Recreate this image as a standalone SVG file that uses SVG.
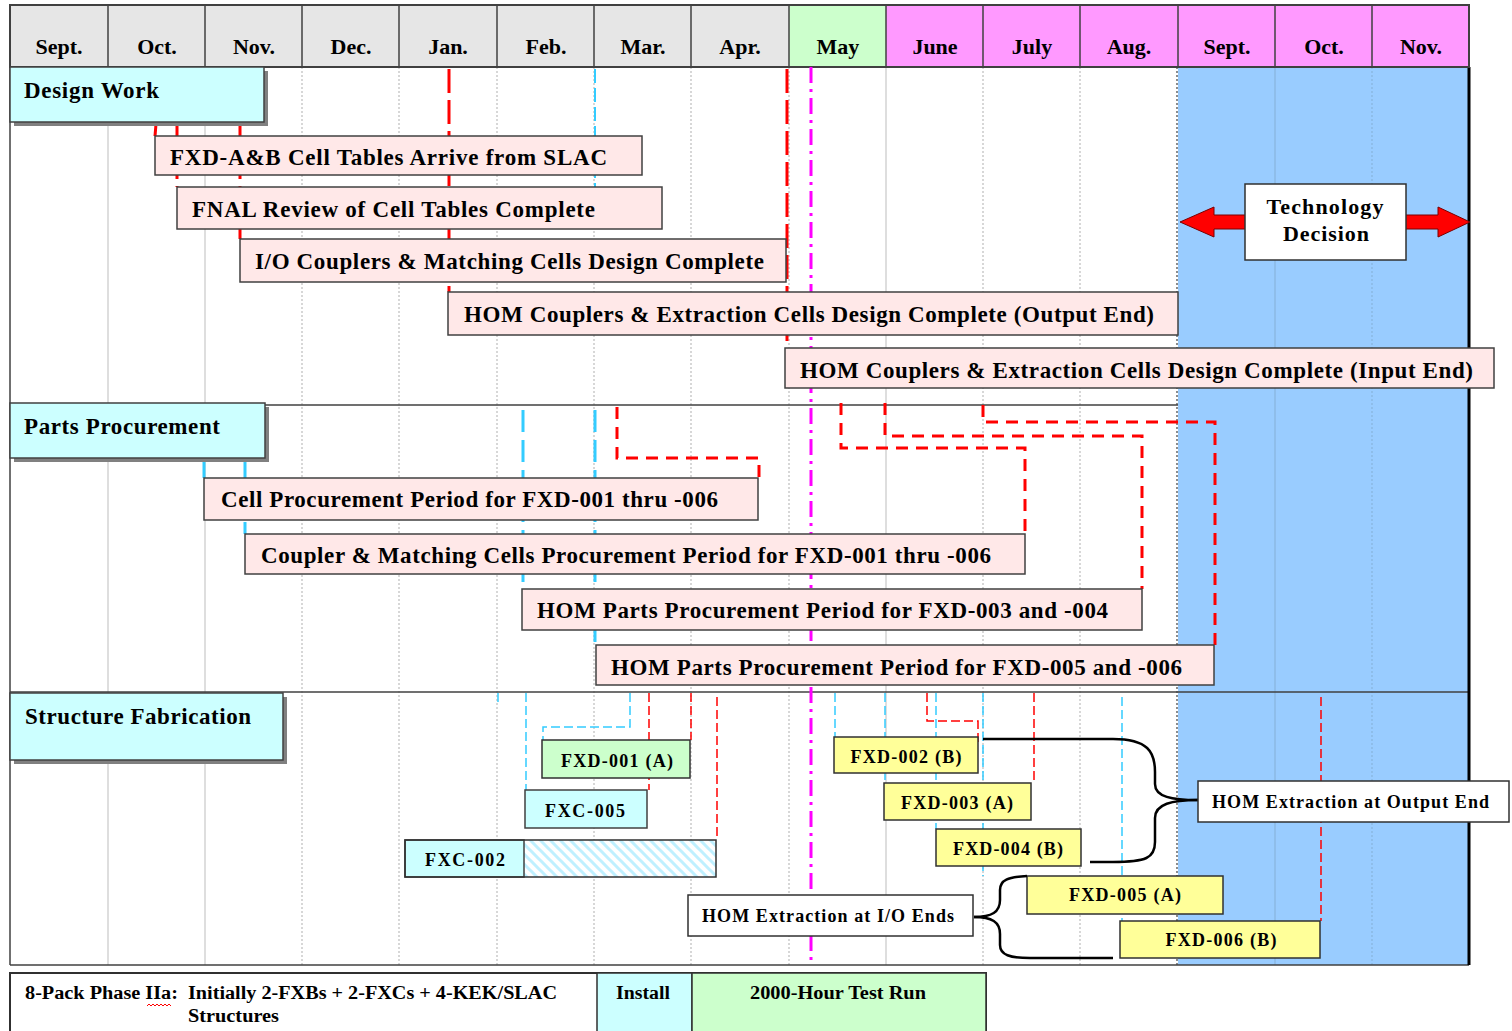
<svg xmlns="http://www.w3.org/2000/svg" width="1512" height="1031" viewBox="0 0 1512 1031">
<style>
text{font-family:"Liberation Serif","Times New Roman",serif;font-weight:bold;fill:#000}
.mon{font-size:22px;text-anchor:middle}
.sec{font-size:23px}
.bar{font-size:23px}
.box{font-size:18px;text-anchor:middle}
.lbl{font-size:18px}
.leg{font-size:18px}
.hdr{stroke:#404040;stroke-width:1.5}
.grid{stroke:#c8c8c8;stroke-width:1.2}
.dot{stroke:#bdbdbd;stroke-width:1.2;stroke-dasharray:2 2}
.bgrid{stroke:#88b4dd;stroke-width:1.2}
.pink{fill:#ffe8e8;stroke:#404040;stroke-width:1.5}
.cyanb{fill:#ccffff;stroke:#404040;stroke-width:1.5}
.shadow{fill:#808080}
.yel{fill:#ffff99;stroke:#303030;stroke-width:1.5}
.grn{fill:#ccffcc;stroke:#303030;stroke-width:1.5}
.wht{fill:#ffffff;stroke:#303030;stroke-width:1.5}
.rd1{stroke:#ff0000;stroke-width:3;stroke-dasharray:24 7;fill:none}
.rd2{stroke:#ff0000;stroke-width:3;stroke-dasharray:12 8;fill:none}
.rd3{stroke:#ff0000;stroke-width:1.5;stroke-dasharray:9 4;fill:none}
.cy1{stroke:#33ccff;stroke-width:2;stroke-dasharray:14 5;fill:none}
.cy2{stroke:#33ccff;stroke-width:3;stroke-dasharray:22 8;fill:none}
.cy3{stroke:#33ccff;stroke-width:1.5;stroke-dasharray:9 4;fill:none}
.mg{stroke:#ff00ff;stroke-width:3;stroke-dasharray:16 6 3 6;fill:none}
.brace{stroke:#000;stroke-width:2.5;fill:none}
</style>
<defs>
<pattern id="hatch" width="10" height="10" patternUnits="userSpaceOnUse">
<rect width="10" height="10" fill="#ffffff"/>
<path d="M-5,5 L5,15 M0,0 L10,10 M5,-5 L15,5" stroke="#bff0ff" stroke-width="3"/>
</pattern>
</defs>

<!-- background -->
<rect x="0" y="0" width="1512" height="1031" fill="#ffffff"/>
<rect x="1178" y="67" width="291" height="898" fill="#99ccff"/>

<!-- grid -->
<g id="grid">
<line class="grid" x1="108" y1="67" x2="108" y2="965"/>
<line class="grid" x1="205" y1="67" x2="205" y2="965"/>
<line class="dot" x1="302" y1="67" x2="302" y2="965"/>
<line class="dot" x1="399" y1="67" x2="399" y2="965"/>
<line class="dot" x1="497" y1="67" x2="497" y2="965"/>
<line class="dot" x1="594" y1="67" x2="594" y2="965"/>
<line class="dot" x1="691" y1="67" x2="691" y2="965"/>
<line class="dot" x1="789" y1="67" x2="789" y2="965"/>
<line class="grid" x1="886" y1="67" x2="886" y2="965"/>
<line class="dot" x1="983" y1="67" x2="983" y2="965"/>
<line class="dot" x1="1080" y1="67" x2="1080" y2="965"/>
<line x1="1177" y1="67" x2="1177" y2="965" stroke="#404040" stroke-width="1.2" stroke-dasharray="2 2"/>
<line class="bgrid" x1="1275" y1="67" x2="1275" y2="965"/>
<line class="bgrid" x1="1372" y1="67" x2="1372" y2="965" stroke-dasharray="2 2"/>
<line class="hdr" x1="10" y1="405" x2="1178" y2="405"/>
<line class="hdr" x1="10" y1="692" x2="1469" y2="692"/>
<line class="hdr" x1="10" y1="965" x2="1469" y2="965"/>
<line class="hdr" x1="10" y1="5" x2="10" y2="965"/>
<line x1="1469" y1="67" x2="1469" y2="965" stroke="#000" stroke-width="3"/>
</g>

<!-- header -->
<g id="header">
<rect x="10" y="5" width="779" height="62" fill="#e6e6e6"/>
<rect x="789" y="5" width="97" height="62" fill="#ccffcc"/>
<rect x="886" y="5" width="583" height="62" fill="#ff99ff"/>
<rect x="10" y="5" width="1459" height="62" fill="none" stroke="#404040" stroke-width="2"/>
<line class="hdr" x1="108" y1="5" x2="108" y2="67"/>
<line class="hdr" x1="205" y1="5" x2="205" y2="67"/>
<line class="hdr" x1="302" y1="5" x2="302" y2="67"/>
<line class="hdr" x1="399" y1="5" x2="399" y2="67"/>
<line class="hdr" x1="497" y1="5" x2="497" y2="67"/>
<line class="hdr" x1="594" y1="5" x2="594" y2="67"/>
<line class="hdr" x1="691" y1="5" x2="691" y2="67"/>
<line class="hdr" x1="789" y1="5" x2="789" y2="67"/>
<line class="hdr" x1="886" y1="5" x2="886" y2="67"/>
<line class="hdr" x1="983" y1="5" x2="983" y2="67"/>
<line class="hdr" x1="1080" y1="5" x2="1080" y2="67"/>
<line class="hdr" x1="1178" y1="5" x2="1178" y2="67"/>
<line class="hdr" x1="1275" y1="5" x2="1275" y2="67"/>
<line class="hdr" x1="1372" y1="5" x2="1372" y2="67"/>
<text class="mon" x="59" y="54">Sept.</text>
<text class="mon" x="157" y="54">Oct.</text>
<text class="mon" x="254" y="54">Nov.</text>
<text class="mon" x="351" y="54">Dec.</text>
<text class="mon" x="448" y="54">Jan.</text>
<text class="mon" x="546" y="54">Feb.</text>
<text class="mon" x="643" y="54">Mar.</text>
<text class="mon" x="740" y="54">Apr.</text>
<text class="mon" x="838" y="54">May</text>
<text class="mon" x="935" y="54">June</text>
<text class="mon" x="1032" y="54">July</text>
<text class="mon" x="1129" y="54">Aug.</text>
<text class="mon" x="1227" y="54">Sept.</text>
<text class="mon" x="1324" y="54">Oct.</text>
<text class="mon" x="1421" y="54">Nov.</text>
</g>

<!-- connectors -->
<g id="connectors">
<line class="mg" x1="811" y1="67" x2="811" y2="962"/>
<!-- design work -->
<line class="rd1" x1="156" y1="124" x2="155" y2="136"/>
<line class="rd1" x1="177" y1="124" x2="177" y2="187"/>
<line class="rd1" x1="240" y1="124" x2="240" y2="239"/>
<line class="rd1" x1="449" y1="69" x2="449" y2="292"/>
<line class="cy1" x1="595" y1="69" x2="595" y2="187"/>
<line class="rd1" x1="787" y1="69" x2="787" y2="348"/>
<!-- parts procurement -->
<line class="cy2" x1="204" y1="460" x2="204" y2="478"/>
<line class="cy2" x1="245" y1="462" x2="245" y2="534"/>
<line class="cy2" x1="523" y1="410" x2="523" y2="589"/>
<line class="cy2" x1="595" y1="410" x2="595" y2="645"/>
<path class="rd2" d="M617,407 L617,458 L759,458 L759,478"/>
<path class="rd2" d="M841,403 L841,448 L1025,448 L1025,534"/>
<path class="rd2" d="M885,403 L885,436 L1142,436 L1142,589"/>
<path class="rd2" d="M983,405 L983,422 L1215,422 L1215,645"/>
<!-- structure fabrication -->
<line class="cy3" x1="498" y1="693" x2="498" y2="703"/>
<line class="cy3" x1="526" y1="693" x2="526" y2="790"/>
<path class="cy3" d="M630,693 L630,727 L543,727 L543,740"/>
<line class="rd3" x1="649" y1="693" x2="649" y2="790"/>
<line class="rd3" x1="691" y1="693" x2="691" y2="740"/>
<line class="rd3" x1="717" y1="697" x2="717" y2="840"/>
<line class="cy3" x1="835" y1="693" x2="835" y2="737"/>
<line class="cy3" x1="885" y1="693" x2="885" y2="783"/>
<path class="rd3" d="M927,693 L927,721 L978,721 L978,742"/>
<line class="cy3" x1="936" y1="693" x2="936" y2="829"/>
<line class="cy3" x1="983" y1="693" x2="983" y2="876"/>
<line class="rd3" x1="1034" y1="693" x2="1034" y2="783"/>
<line class="cy3" x1="1122" y1="697" x2="1122" y2="921"/>
<line class="rd3" x1="1321" y1="697" x2="1321" y2="921"/>
</g>

<!-- section headers -->
<g id="sec-design">
<rect class="shadow" x="14" y="71" width="254" height="55"/>
<rect class="cyanb" x="10" y="67" width="254" height="55"/>
<text class="sec" x="24" y="98" textLength="135" lengthAdjust="spacing">Design Work</text>
</g>
<g id="sec-parts">
<rect class="shadow" x="14" y="407" width="255" height="55"/>
<rect class="cyanb" x="10" y="403" width="255" height="55"/>
<text class="sec" x="24" y="434" textLength="196" lengthAdjust="spacing">Parts Procurement</text>
</g>
<g id="sec-fab">
<rect class="shadow" x="14" y="697" width="273" height="67"/>
<rect class="cyanb" x="10" y="693" width="273" height="67"/>
<text class="sec" x="25" y="724" textLength="226" lengthAdjust="spacing">Structure Fabrication</text>
</g>

<!-- design bars -->
<g id="bar1"><rect class="pink" x="155" y="136" width="487" height="39"/>
<text class="bar" x="170" y="165" textLength="437" lengthAdjust="spacing">FXD-A&amp;B Cell Tables Arrive from SLAC</text></g>
<g id="bar2"><rect class="pink" x="177" y="187" width="485" height="42"/>
<text class="bar" x="192" y="217" textLength="403" lengthAdjust="spacing">FNAL Review of Cell Tables Complete</text></g>
<g id="bar3"><rect class="pink" x="240" y="239" width="546" height="43"/>
<text class="bar" x="255" y="269" textLength="509" lengthAdjust="spacing">I/O Couplers &amp; Matching Cells Design Complete</text></g>
<g id="bar4"><rect class="pink" x="448" y="292" width="730" height="43"/>
<text class="bar" x="464" y="322" textLength="690" lengthAdjust="spacing">HOM Couplers &amp; Extraction Cells Design Complete (Output End)</text></g>
<g id="bar5"><rect class="pink" x="785" y="348" width="709" height="40"/>
<text class="bar" x="800" y="378" textLength="673" lengthAdjust="spacing">HOM Couplers &amp; Extraction Cells Design Complete (Input End)</text></g>

<!-- parts bars -->
<g id="bar6"><rect class="pink" x="204" y="478" width="554" height="42"/>
<text class="bar" x="221" y="507" textLength="497" lengthAdjust="spacing">Cell Procurement Period for FXD-001 thru -006</text></g>
<g id="bar7"><rect class="pink" x="245" y="534" width="780" height="40"/>
<text class="bar" x="261" y="563" textLength="730" lengthAdjust="spacing">Coupler &amp; Matching Cells Procurement Period for FXD-001 thru -006</text></g>
<g id="bar8"><rect class="pink" x="522" y="589" width="620" height="41"/>
<text class="bar" x="537" y="618" textLength="571" lengthAdjust="spacing">HOM Parts Procurement Period for FXD-003 and -004</text></g>
<g id="bar9"><rect class="pink" x="596" y="645" width="618" height="40"/>
<text class="bar" x="611" y="675" textLength="571" lengthAdjust="spacing">HOM Parts Procurement Period for FXD-005 and -006</text></g>

<!-- technology decision -->
<g id="tech-arrows">
<polygon points="1180,222 1214,207 1214,215 1246,215 1246,229 1214,229 1214,237" fill="#ff0000" stroke="#7a0000" stroke-width="1"/>
<polygon points="1470,222 1438,207 1438,215 1405,215 1405,229 1438,229 1438,237" fill="#ff0000" stroke="#7a0000" stroke-width="1"/>
</g>
<g id="tech-decision">
<rect class="wht" x="1245" y="184" width="161" height="76"/>
<text class="box" x="1325" y="214" font-size="22" style="font-size:22px" textLength="117" lengthAdjust="spacing">Technology</text>
<text class="box" x="1326" y="241" style="font-size:22px" textLength="86" lengthAdjust="spacing">Decision</text>
</g>

<!-- fabrication boxes -->
<g id="fxd001"><rect class="grn" x="542" y="740" width="148" height="38"/>
<text class="box" x="617" y="767" textLength="112" lengthAdjust="spacing">FXD-001 (A)</text></g>
<g id="fxc005"><rect class="cyanb" x="525" y="790" width="122" height="38"/>
<text class="box" x="585" y="817" textLength="80" lengthAdjust="spacing">FXC-005</text></g>
<g id="fxc002"><rect x="524" y="840" width="192" height="37" fill="url(#hatch)"/>
<rect class="cyanb" x="405" y="840" width="119" height="37"/>
<rect x="405" y="840" width="311" height="37" fill="none" stroke="#303030" stroke-width="1.5"/>
<text class="box" x="465" y="866" textLength="80" lengthAdjust="spacing">FXC-002</text></g>
<g id="fxd002"><rect class="yel" x="834" y="737" width="144" height="36"/>
<text class="box" x="906" y="763" textLength="111" lengthAdjust="spacing">FXD-002 (B)</text></g>
<g id="fxd003"><rect class="yel" x="884" y="783" width="147" height="37"/>
<text class="box" x="957" y="809" textLength="112" lengthAdjust="spacing">FXD-003 (A)</text></g>
<g id="fxd004"><rect class="yel" x="936" y="829" width="145" height="37"/>
<text class="box" x="1008" y="855" textLength="110" lengthAdjust="spacing">FXD-004 (B)</text></g>
<g id="fxd005"><rect class="yel" x="1027" y="876" width="196" height="38"/>
<text class="box" x="1125" y="901" textLength="112" lengthAdjust="spacing">FXD-005 (A)</text></g>
<g id="fxd006"><rect class="yel" x="1120" y="921" width="200" height="37"/>
<text class="box" x="1221" y="946" textLength="111" lengthAdjust="spacing">FXD-006 (B)</text></g>

<!-- braces -->
<g id="brace-output">
<path class="brace" d="M983,739 L1113,739 C1148,739 1155,752 1155,772 L1155,784 C1155,797 1172,800 1198,800"/>
<path class="brace" d="M1198,800 C1172,800 1155,804 1155,818 L1155,842 C1155,858 1146,862 1113,862 L1090,862"/>
</g>
<g id="hom-output">
<rect class="wht" x="1198" y="781" width="311" height="41"/>
<text class="lbl" x="1212" y="808" textLength="277" lengthAdjust="spacing">HOM Extraction at Output End</text>
</g>
<g id="brace-io">
<path class="brace" d="M974,917 C992,917 1000,912 1000,900 L1000,890 C1000,880 1008,877 1027,876"/>
<path class="brace" d="M974,917 C992,917 1000,922 1000,934 L1000,945 C1000,955 1010,958 1030,958 L1113,958"/>
</g>
<g id="hom-io">
<rect class="wht" x="688" y="895" width="285" height="41"/>
<text class="lbl" x="702" y="922" textLength="252" lengthAdjust="spacing">HOM Extraction at I/O Ends</text>
</g>

<!-- legend -->
<g id="legend">
<rect x="10" y="973" width="976" height="62" fill="#ffffff" stroke="#303030" stroke-width="2"/>
<rect x="597" y="973" width="95" height="62" fill="#ccffff" stroke="#303030" stroke-width="1.5"/>
<rect x="692" y="973" width="294" height="62" fill="#ccffcc" stroke="#303030" stroke-width="1.5"/>
<text class="leg" x="25" y="999" textLength="153" lengthAdjust="spacingAndGlyphs">8-Pack Phase IIa:</text>
<path d="M147,1006 l2,-2 l2,2 l2,-2 l2,2 l2,-2 l2,2 l2,-2 l2,2 l2,-2 l2,2 l2,-2 l2,2" fill="none" stroke="#ff0000" stroke-width="1"/>
<text class="leg" x="188" y="999" textLength="369" lengthAdjust="spacingAndGlyphs">Initially 2-FXBs + 2-FXCs + 4-KEK/SLAC</text>
<text class="leg" x="188" y="1022" textLength="91" lengthAdjust="spacingAndGlyphs">Structures</text>
<text class="leg" x="643" y="999" text-anchor="middle" textLength="54" lengthAdjust="spacingAndGlyphs">Install</text>
<text class="leg" x="838" y="999" text-anchor="middle" textLength="176" lengthAdjust="spacingAndGlyphs">2000-Hour Test Run</text>
</g>
</svg>
